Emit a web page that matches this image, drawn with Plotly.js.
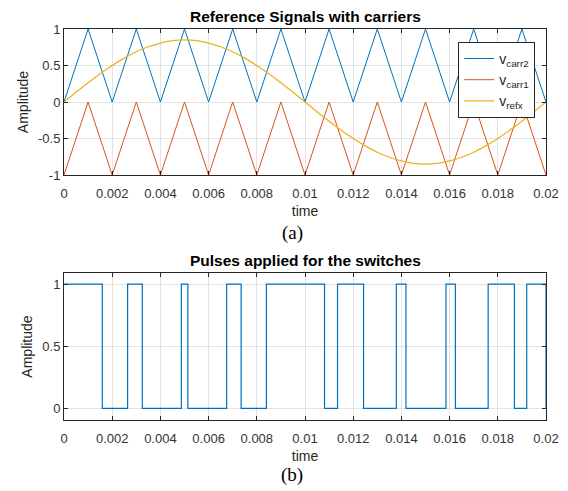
<!DOCTYPE html>
<html>
<head>
<meta charset="utf-8">
<script src="https://cdn.plot.ly/plotly-3.0.1.min.js"></script>
<style>html,body{margin:0;padding:0;background:#fff;}#chart{width:568px;height:491px;}</style>
</head>
<body>
<div id="chart"></div>
<script>
// Carrier triangle vertices (time, value)
const carrTime = [0,0.001,0.002,0.003,0.004,0.005,0.006,0.007,0.008,0.009,0.010,0.011,0.012,0.013,0.014,0.015,0.016,0.017,0.018,0.019,0.020];
const carr2Vals = [0,1,0,1,0,1,0,1,0,1,0,1,0,1,0,1,0,1,0,1,0];
const carr1Vals = [-1,0,-1,0,-1,0,-1,0,-1,0,-1,0,-1,0,-1,0,-1,0,-1,0,-1];

// Reference signal, read every 0.0005 s
const refTime = [0,0.0005,0.001,0.0015,0.002,0.0025,0.003,0.0035,0.004,0.0045,0.005,0.0055,0.006,0.0065,0.007,0.0075,0.008,0.0085,0.009,0.0095,0.010,
                 0.0105,0.011,0.0115,0.012,0.0125,0.013,0.0135,0.014,0.0145,0.015,0.0155,0.016,0.0165,0.017,0.0175,0.018,0.0185,0.019,0.0195,0.020];
const refVals = [0,0.133,0.263,0.386,0.500,0.601,0.688,0.757,0.808,0.840,0.850,0.840,0.808,0.757,0.688,0.601,0.500,0.386,0.263,0.133,0,
                 -0.133,-0.263,-0.386,-0.500,-0.601,-0.688,-0.757,-0.808,-0.840,-0.850,-0.840,-0.808,-0.757,-0.688,-0.601,-0.500,-0.386,-0.263,-0.133,0];

// Pulse switching instants and levels (step "hv")
const pulseTime = [0,0.00159,0.00264,0.00325,0.00487,0.00514,0.00675,0.00735,0.0084,0.01081,0.01135,0.01243,0.01379,0.01419,0.01585,0.01624,0.0176,0.01869,0.0192,0.02];
const pulseVals = [1,0,1,0,1,0,1,0,1,0,1,0,1,0,1,0,1,0,1,0];

const xTicks = [0,0.002,0.004,0.006,0.008,0.01,0.012,0.014,0.016,0.018,0.02];
const xTickText = ['0','0.002','0.004','0.006','0.008','0.01','0.012','0.014','0.016','0.018','0.02'];

const blue = '#0072BD', red = '#D95319', yellow = '#EDB120';
const FONT = '"Liberation Sans", Arial, sans-serif';
const SERIF = '"Liberation Serif", "Times New Roman", serif';

const traces = [
  {x: carrTime, y: carr2Vals, type:'scatter', mode:'lines', line:{color:blue, width:1}, name:'v<sub>carr2</sub>', xaxis:'x', yaxis:'y'},
  {x: carrTime, y: carr1Vals, type:'scatter', mode:'lines', line:{color:red, width:1}, name:'v<sub>carr1</sub>', xaxis:'x', yaxis:'y'},
  {x: refTime, y: refVals, type:'scatter', mode:'lines', line:{color:yellow, width:1.3, shape:'spline'}, name:'v<sub>refx</sub>', xaxis:'x', yaxis:'y'},
  {x: pulseTime, y: pulseVals, type:'scatter', mode:'lines', line:{color:blue, width:1.2, shape:'hv'}, showlegend:false, xaxis:'x2', yaxis:'y2'}
];

const axBase = {
  showline:true, mirror:'ticks', linecolor:'#262626', linewidth:1,
  ticks:'inside', ticklen:4, tickcolor:'#262626',
  showgrid:true, gridcolor:'#e3e3e3', gridwidth:1, zeroline:false,
  tickfont:{family:FONT, size:13, color:'#333'}
};

const layout = {
  width:568, height:491,
  margin:{l:64, r:22, t:29, b:71},
  paper_bgcolor:'#fff', plot_bgcolor:'#fff',
  font:{family:FONT, color:'#262626'},
  showlegend:true,
  legend:{x:0.818, y:0.967, xanchor:'left', yanchor:'top', bgcolor:'#fff', bordercolor:'#262626', borderwidth:1,
          font:{family:FONT, size:14, color:'#262626'}, itemwidth:30, tracegroupgap:0},
  xaxis: Object.assign({}, axBase, {domain:[0,1], range:[0,0.02], anchor:'y', tickvals:xTicks, ticktext:xTickText, ticklabelstandoff:6,
          title:{text:'time', font:{family:FONT, size:14, color:'#262626'}, standoff:6}}),
  yaxis: Object.assign({}, axBase, {domain:[0.6266,1], range:[-1,1], anchor:'x', tickvals:[-1,-0.5,0,0.5,1], ticktext:['-1','-0.5','0','0.5','1'],
          title:{text:'Amplitude', font:{family:FONT, size:14, color:'#262626'}, standoff:6}}),
  xaxis2: Object.assign({}, axBase, {domain:[0,1], range:[0,0.02], anchor:'y2', tickvals:xTicks, ticktext:xTickText, ticklabelstandoff:6,
          title:{text:'time', font:{family:FONT, size:14, color:'#262626'}, standoff:6}}),
  yaxis2: Object.assign({}, axBase, {domain:[0,0.376], range:[-0.094,1.09], anchor:'x2', tickvals:[0,0.5,1], ticktext:['0','0.5','1'],
          title:{text:'Amplitude', font:{family:FONT, size:14, color:'#262626'}, standoff:6}}),
  annotations:[
    {text:'<b>Reference Signals with carriers</b>', xref:'paper', yref:'paper', x:0.5, y:1.033, xanchor:'center', yanchor:'middle', showarrow:false,
     font:{family:FONT, size:15.5, color:'#000'}},
    {text:'<b>Pulses applied for the switches</b>', xref:'paper', yref:'paper', x:0.5, y:0.409, xanchor:'center', yanchor:'middle', showarrow:false,
     font:{family:FONT, size:15.5, color:'#000'}},
    {text:'(a)', xref:'paper', yref:'paper', x:(292-64)/481.7, y:0.478, xanchor:'center', yanchor:'middle', showarrow:false,
     font:{family:SERIF, size:19, color:'#000'}},
    {text:'(b)', xref:'paper', yref:'paper', x:(292-64)/481.7, y:-0.141, xanchor:'center', yanchor:'middle', showarrow:false,
     font:{family:SERIF, size:19, color:'#000'}}
  ]
};

Plotly.newPlot('chart', traces, layout, {displayModeBar:false, staticPlot:true});
</script>
</body>
</html>
